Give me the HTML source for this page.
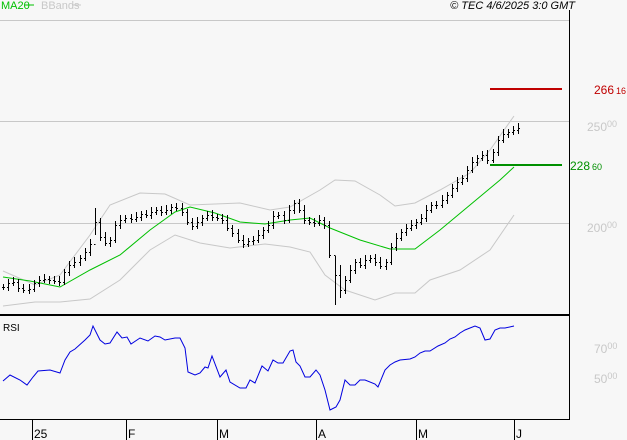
<!DOCTYPE html>
<html><head><meta charset="utf-8"><style>
html,body{margin:0;padding:0;background:#f7f7f7;}
svg{display:block;font-family:"Liberation Sans",sans-serif;}
</style></head><body>
<svg id="s" width="627" height="440" viewBox="0 0 627 440" xmlns="http://www.w3.org/2000/svg">
<rect width="627" height="440" fill="#f7f7f7"/>
<line x1="0" y1="20.5" x2="569" y2="20.5" stroke="#c8c8c8"/>
<line x1="0" y1="121.5" x2="569" y2="121.5" stroke="#c8c8c8"/>
<line x1="0" y1="223.5" x2="569" y2="223.5" stroke="#c8c8c8"/>
<line x1="569.5" y1="10" x2="569.5" y2="420" stroke="#000"/>
<line x1="0" y1="315" x2="569" y2="315" stroke="#000" stroke-width="2"/>
<line x1="0" y1="419.5" x2="569" y2="419.5" stroke="#000"/>
<g stroke="#000">
<line x1="32.5" y1="420" x2="32.5" y2="440"/><line x1="126.5" y1="420" x2="126.5" y2="440"/>
<line x1="217.5" y1="420" x2="217.5" y2="440"/><line x1="316.5" y1="420" x2="316.5" y2="440"/>
<line x1="416.5" y1="420" x2="416.5" y2="440"/><line x1="514.5" y1="420" x2="514.5" y2="440"/>
</g>
<g font-size="12" fill="#000">
<text x="34" y="438">25</text><text x="128" y="438">F</text><text x="219" y="438">M</text>
<text x="318" y="438">A</text><text x="418" y="438">M</text><text x="516" y="438">J</text>
</g>
<text x="1" y="9" font-size="11" fill="#00c000">MA20</text>
<line x1="25" y1="5" x2="34" y2="5" stroke="#00c000"/>
<text x="41" y="9" font-size="11" fill="#c8c8c8">BBands</text>
<line x1="72" y1="5" x2="81" y2="5" stroke="#c8c8c8"/>
<text x="575" y="9" font-size="11" font-style="italic" fill="#000" text-anchor="end">© TEC 4/6/2025 3:0 GMT</text>
<text x="3" y="331" font-size="10" fill="#000">RSI</text>
<g fill="#c8c8c8" font-size="12">
<text x="587" y="131">250<tspan font-size="9" dy="-4">00</tspan></text>
<text x="587" y="232">200<tspan font-size="9" dy="-4">00</tspan></text>
<text x="594" y="353">70<tspan font-size="9" dy="-4">00</tspan></text>
<text x="594" y="383">50<tspan font-size="9" dy="-4">00</tspan></text>
</g>
<line x1="490" y1="89" x2="562" y2="89" stroke="#c00000" stroke-width="2"/>
<text x="594" y="94" font-size="12" fill="#c00000">266<tspan font-size="9" dx="2">16</tspan></text>
<line x1="490" y1="165" x2="562" y2="165" stroke="#009000" stroke-width="2"/>
<text x="570" y="170" font-size="12" fill="#009000">228<tspan font-size="9" dx="2">60</tspan></text>
<polyline fill="none" stroke="#c8c8c8" points="3,271 35,285 60,275 90,235 110,205 140,193 165,194 190,205 240,203 270,210 290,207 320,190 335,180 355,181 380,195 395,206 415,203 440,190 470,173 490,150 514,116"/>
<polyline fill="none" stroke="#c8c8c8" points="3,306 35,302 60,302 90,299 120,280 150,250 175,235 200,243 230,248 265,244 290,247 310,252 325,275 345,290 375,300 395,293 415,293 430,280 460,270 490,250 514,215"/>
<polyline fill="none" stroke="#00c000" points="3,277 30,281 60,287 90,270 120,255 150,230 175,212 190,207 215,213 240,222 265,224 290,220 310,218 330,228 360,240 390,249 415,249 440,230 470,205 500,180 514,167"/>
<g id="bars" stroke="#000"></g>
<polyline fill="none" stroke="#0000e0" points="3,381 10,375 20,380 27,385 33,377 38,371 50,370 60,373 65,360 70,352 75,349 85,340 90,335 93,326 100,340 105,344 110,343 117,332 122,338 127,337 131,344 140,338 148,341 155,336 160,337 165,340 175,338 180,338 185,348 188,372 195,375 200,373 205,367 208,368 212,356 220,377 226,370 230,382 240,388 246,388 250,380 255,383 262,366 268,371 273,360 278,363 283,363 290,351 293,350 296,362 300,366 305,377 310,377 316,370 320,375 325,390 330,410 336,407 340,400 345,380 350,385 355,385 360,380 365,380 375,384 378,387 385,370 390,365 395,362 400,360 410,359 415,357 420,353 425,351 430,351 438,346 445,343 450,339 455,337 460,333 465,330 470,328 475,326 480,328 485,340 490,339 495,330 500,328 505,328 514,326"/>
</svg>
<script>
var c=[287,283,282,288,290,289,283,280,279,280,281,282,272,265,262,258,252,244,222,237,243,240,225,220,218,219,217,214,215,212,210,212,210,207,208,212,222,226,222,218,215,217,218,220,228,233,240,244,241,240,235,230,225,216,215,220,210,203,210,220,222,223,220,225,255,275,290,280,270,262,265,260,258,262,266,262,247,238,232,228,225,222,218,210,205,205,200,195,188,182,178,170,162,158,155,160,152,140,134,132,130,128];
var g=document.getElementById('bars'),h='';
for(var i=0;i<c.length;i++){var x=Math.round(3+i*5.1)+0.5,y=c[i],p=i?c[i-1]:y;
var hi=Math.min(y,p)-3-(i%3),lo=Math.max(y,p)+3+(i%2);
if(i==18){hi=208;lo=235}if(i==65){hi=256;lo=305}if(i==66){hi=265;lo=298}
h+='<line x1="'+x+'" y1="'+hi+'" x2="'+x+'" y2="'+lo+'"/><line x1="'+(x-1.5)+'" y1="'+(p+0.5)+'" x2="'+x+'" y2="'+(p+0.5)+'"/><line x1="'+x+'" y1="'+(y+0.5)+'" x2="'+(x+1.5)+'" y2="'+(y+0.5)+'"/>';}
g.innerHTML=h;
</script>
</body></html>
